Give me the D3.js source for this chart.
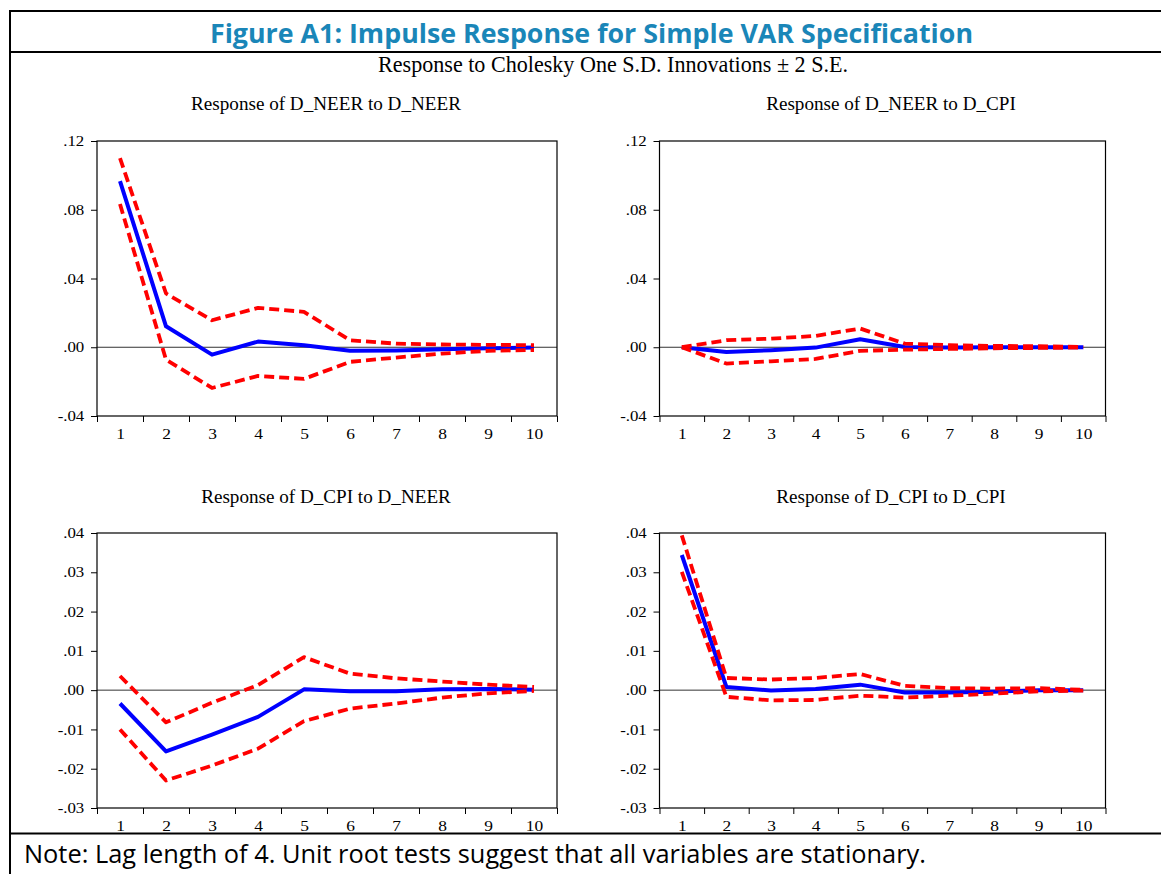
<!DOCTYPE html>
<html>
<head>
<meta charset="utf-8">
<script src="https://cdn.jsdelivr.net/npm/d3@7"></script>
<style>
  html, body { margin: 0; padding: 0; background: #fff; }
  svg { display: block; }
</style>
</head>
<body>
<script>
// Impulse responses from the simple VAR (Cholesky ordering), periods 1..10
const periods = [1, 2, 3, 4, 5, 6, 7, 8, 9, 10];

const neerToNeer   = [0.0967, 0.0122, -0.0043, 0.0033, 0.0012, -0.0021, -0.0019, -0.0012, -0.0006, -0.0002];
const neerToNeerHi = [0.1100, 0.0313, 0.0157, 0.0229, 0.0206, 0.0041, 0.0021, 0.0016, 0.0014, 0.0012];
const neerToNeerLo = [0.0833, -0.0072, -0.0237, -0.0167, -0.0184, -0.0085, -0.0060, -0.0037, -0.0021, -0.0016];

const neerToCpi   = [0.0000, -0.0027, -0.0017, -0.0002, 0.0047, 0.0002, -0.0002, 0.0000, 0.0000, 0.0000];
const neerToCpiHi = [0.0000, 0.0041, 0.0050, 0.0066, 0.0109, 0.0021, 0.0012, 0.0008, 0.0006, 0.0002];
const neerToCpiLo = [0.0000, -0.0095, -0.0082, -0.0068, -0.0021, -0.0014, -0.0010, -0.0006, -0.0004, -0.0002];

const cpiToNeer   = [-0.0034, -0.0156, -0.0113, -0.0068, 0.0002, -0.0003, -0.0003, 0.0002, 0.0003, 0.0001];
const cpiToNeerHi = [0.0036, -0.0082, -0.0032, 0.0013, 0.0084, 0.0042, 0.0030, 0.0022, 0.0014, 0.0008];
const cpiToNeerLo = [-0.0100, -0.0230, -0.0192, -0.0149, -0.0079, -0.0047, -0.0034, -0.0019, -0.0008, -0.0002];

const cpiToCpi   = [0.0344, 0.0008, -0.0001, 0.0003, 0.0014, -0.0006, -0.0006, -0.0004, 0.0000, 0.0000];
const cpiToCpiHi = [0.0394, 0.0031, 0.0027, 0.0031, 0.0041, 0.0011, 0.0005, 0.0004, 0.0005, 0.0001];
const cpiToCpiLo = [0.0301, -0.0017, -0.0026, -0.0025, -0.0014, -0.0019, -0.0014, -0.0009, -0.0003, -0.0001];

const topTicks    = [-0.04, 0.00, 0.04, 0.08, 0.12];
const bottomTicks = [-0.03, -0.02, -0.01, 0.00, 0.01, 0.02, 0.03, 0.04];

const figureTitle = "Figure A1: Impulse Response for Simple VAR Specification";
const subTitle = "Response to Cholesky One S.D. Innovations \u00B1 2 S.E.";
const noteText = "Note: Lag length of 4. Unit root tests suggest that all variables are stationary.";

const panels = [
  { title: "Response of D_NEER to D_NEER", mid: neerToNeer, hi: neerToNeerHi, lo: neerToNeerLo, ticks: topTicks,
    box: { l: 97, r: 557, t: 141, b: 416 }, titleX: 326, titleY: 110 },
  { title: "Response of D_NEER to D_CPI", mid: neerToCpi, hi: neerToCpiHi, lo: neerToCpiLo, ticks: topTicks,
    box: { l: 659.5, r: 1105.5, t: 141, b: 416 }, titleX: 891, titleY: 110 },
  { title: "Response of D_CPI to D_NEER", mid: cpiToNeer, hi: cpiToNeerHi, lo: cpiToNeerLo, ticks: bottomTicks,
    box: { l: 97, r: 557, t: 533, b: 808 }, titleX: 326, titleY: 503 },
  { title: "Response of D_CPI to D_CPI", mid: cpiToCpi, hi: cpiToCpiHi, lo: cpiToCpiLo, ticks: bottomTicks,
    box: { l: 659.5, r: 1105.5, t: 533, b: 808 }, titleX: 891, titleY: 503 }
];

const SERIF = "'Liberation Serif', 'Times New Roman', serif";
const W = 1161, H = 874;
const svg = d3.select("body").append("svg").attr("width", W).attr("height", H);

// scale a text's font size so it spans a given width
function fitWidth(sel, target, start) {
  sel.attr("font-size", start);
  const w = sel.node().getComputedTextLength();
  sel.attr("font-size", (start * target / w).toFixed(2));
}

// outer frame and separators
const frame = svg.append("g").attr("stroke", "#000").attr("stroke-width", 2).attr("fill", "none");
frame.append("line").attr("x1", 9).attr("x2", W).attr("y1", 11).attr("y2", 11);
frame.append("line").attr("x1", 10).attr("x2", 10).attr("y1", 10).attr("y2", H);
frame.append("line").attr("x1", 10).attr("x2", W).attr("y1", 52).attr("y2", 52);
frame.append("line").attr("x1", 10).attr("x2", W).attr("y1", 833.5).attr("y2", 833.5);

const t = svg.append("text").text(figureTitle)
  .attr("x", 591.5).attr("y", 43).attr("text-anchor", "middle")
  .attr("font-family", "'Open Sans', sans-serif").attr("font-weight", 700)
  .attr("fill", "#1a86b8");
fitWidth(t, 763, 26);

const st = svg.append("text").text(subTitle)
  .attr("x", 613).attr("y", 72).attr("text-anchor", "middle")
  .attr("font-family", SERIF).attr("fill", "#000");
fitWidth(st, 470, 18);

const nt = svg.append("text").text(noteText)
  .attr("x", 24).attr("y", 863)
  .attr("font-family", "'Open Sans', sans-serif").attr("fill", "#000");
fitWidth(nt, 902, 20);

// EViews-style tick labels: ".12", ".00", "-.04"
const fmt = v => {
  const s = Math.abs(v).toFixed(2).replace(/^0\./, ".");
  return (v < 0 ? "-" : "") + s;
};

// tick labels are drawn slightly wide, as in EViews graph output
const WIDEN = "scale(1.16,1)";

// size shared by all panel titles
let panelTitleSize = null;

panels.forEach(p => {
  const g = svg.append("g");
  const x = d3.scaleLinear().domain([0.5, 10.5]).range([p.box.l, p.box.r]);
  const y = d3.scaleLinear().domain([p.ticks[0], p.ticks[p.ticks.length - 1]]).range([p.box.b, p.box.t]);

  const tt = g.append("text").text(p.title)
    .attr("x", p.titleX).attr("y", p.titleY).attr("text-anchor", "middle")
    .attr("font-family", SERIF).attr("fill", "#000");
  if (panelTitleSize === null) {
    fitWidth(tt, 270, 18);
    panelTitleSize = tt.attr("font-size");
  } else {
    tt.attr("font-size", panelTitleSize);
  }

  // zero reference line
  g.append("line")
    .attr("x1", p.box.l).attr("x2", p.box.r)
    .attr("y1", y(0)).attr("y2", y(0))
    .attr("stroke", "#333").attr("stroke-width", 1);

  const line = d3.line().x((d, k) => x(periods[k])).y(d => y(d));

  g.append("path").datum(p.mid).attr("d", line)
    .attr("fill", "none").attr("stroke", "#0000ff").attr("stroke-width", 4)
    .attr("stroke-linejoin", "round");
  [p.hi, p.lo].forEach(band => {
    g.append("path").datum(band).attr("d", line)
      .attr("fill", "none").attr("stroke", "#ff0000").attr("stroke-width", 3.8)
      .attr("stroke-dasharray", "10,5").attr("stroke-linejoin", "round");
  });

  // plot frame
  g.append("rect")
    .attr("x", p.box.l).attr("y", p.box.t)
    .attr("width", p.box.r - p.box.l).attr("height", p.box.b - p.box.t)
    .attr("fill", "none").attr("stroke", "#000").attr("stroke-width", 1.2);

  // left axis
  const ya = g.append("g").attr("transform", `translate(${p.box.l},0)`)
    .call(d3.axisLeft(y).tickValues(p.ticks).tickFormat(fmt).tickSize(6).tickPadding(5));
  ya.attr("font-family", SERIF).attr("font-size", 14.5);
  ya.select(".domain").remove();
  ya.selectAll(".tick line").attr("stroke", "#000");
  ya.selectAll(".tick text").attr("fill", "#000").attr("transform", WIDEN);

  // bottom axis: ticks on period boundaries, labels at period centres
  const bounds = d3.range(0.5, 11, 1);
  const xb = g.append("g").attr("transform", `translate(0,${p.box.b})`)
    .call(d3.axisBottom(x).tickValues(bounds).tickFormat("").tickSize(6));
  xb.select(".domain").remove();
  xb.selectAll(".tick line").attr("stroke", "#000");
  const xl = g.append("g").attr("transform", `translate(0,${p.box.b})`)
    .call(d3.axisBottom(x).tickValues(periods).tickFormat(d3.format("d")).tickSize(0).tickPadding(12));
  xl.attr("font-family", SERIF).attr("font-size", 15);
  xl.select(".domain").remove();
  xl.selectAll(".tick text").attr("fill", "#000").attr("transform", WIDEN);
});
</script>
</body>
</html>
